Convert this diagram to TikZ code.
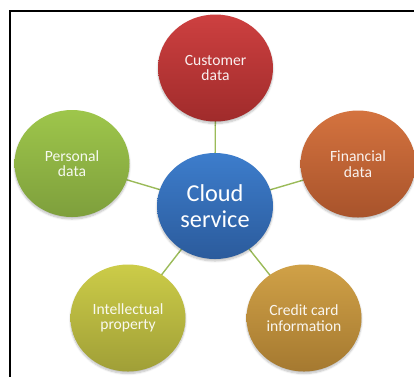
\documentclass[tikz,border=0pt]{standalone}
\usepackage{fontspec}
\setmainfont{Carlito}
\usetikzlibrary{shapes.geometric,shadows.blur,backgrounds}
\definecolor{linkgreen}{HTML}{9BBB59}
\definecolor{redT}{HTML}{CD4040}\definecolor{redB}{HTML}{A02B2B}
\definecolor{orgT}{HTML}{D4733F}\definecolor{orgB}{HTML}{A8532B}
\definecolor{grnT}{HTML}{9EC64B}\definecolor{grnB}{HTML}{7E9F3C}
\definecolor{ylwT}{HTML}{CCCC48}\definecolor{ylwB}{HTML}{A09F37}
\definecolor{gldT}{HTML}{D0A147}\definecolor{gldB}{HTML}{A57930}
\definecolor{bluT}{HTML}{3D7DCC}\definecolor{bluB}{HTML}{2B5B9C}
\tikzset{
  bubble/.style={ellipse, minimum width=115pt, minimum height=107pt, inner sep=0pt,
    align=center, text=white, text opacity=0.92,
    font=\fontsize{15.6}{15.5}\selectfont,
    blur shadow={shadow xshift=0pt, shadow yshift=-2pt, shadow blur steps=6, shadow opacity=25}},
  hub/.style={bubble, minimum width=116pt, minimum height=106pt, text opacity=1,
    font=\fontsize{24.3}{26}\selectfont},
  link/.style={draw=linkgreen, line width=1.4pt},
}
\begin{document}
\begin{tikzpicture}[x=1pt,y=-1pt]
\useasboundingbox (0,0) rectangle (414,376);
\draw[line width=2pt, black] (10,377) -- (10,11) -- (415,11);
\node[bubble, top color=redT, bottom color=redB] (cust) at (215.5,68) {Customer\\data};
\node[bubble, top color=grnT, bottom color=grnB] (pers) at (72,163.5) {Personal\\data};
\node[bubble, top color=orgT, bottom color=orgB] (fin) at (358,164) {Financial\\data};
\node[bubble, top color=ylwT, bottom color=ylwB] (intel) at (128,318) {Intellectual\\property};
\node[bubble, top color=gldT, bottom color=gldB] (cred) at (304,318) {Credit card\\information};
\node[hub, top color=bluT, bottom color=bluB] (cloud) at (215,206) {Cloud\\service};
\begin{scope}[on background layer]
\draw[link] (cloud.center) -- (cust.center);
\draw[link] (cloud.center) -- (pers.center);
\draw[link] (cloud.center) -- (fin.center);
\draw[link] (cloud.center) -- (intel.center);
\draw[link] (cloud.center) -- (cred.center);
\end{scope}
\end{tikzpicture}
\end{document}
